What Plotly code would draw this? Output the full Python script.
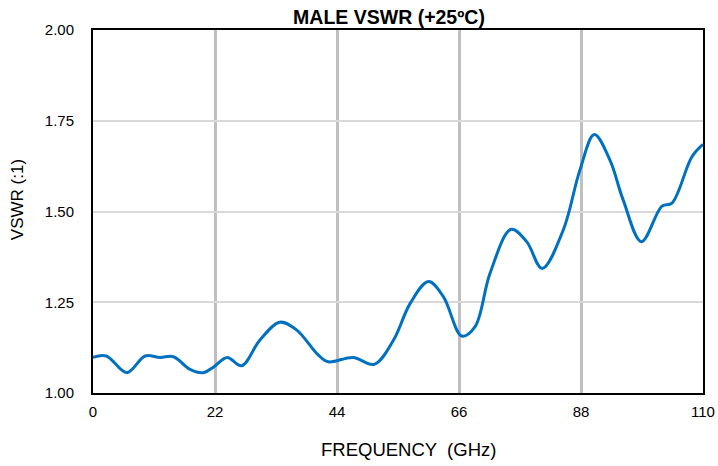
import plotly.graph_objects as go

# frequency (GHz) and VSWR
freq = [0, 2.4, 6.1, 9.4, 12.1, 14.5, 17.5, 19.9, 21.7, 24.2, 26.8, 30.1, 33.7,
        36.7, 40.6, 42.4, 46.9, 50.7, 54.2, 57.2, 60.5, 63.2, 66.5, 68.9, 71.6,
        75.4, 78.2, 81.0, 84.8, 87.8, 90.4, 93.2, 95.6, 98.9, 102.6, 104.4,
        108.0, 110]
vswr = [1.098, 1.102, 1.056, 1.102, 1.098, 1.100, 1.065, 1.056, 1.071, 1.098,
        1.075, 1.146, 1.195, 1.174, 1.105, 1.086, 1.098, 1.079, 1.146, 1.247,
        1.307, 1.265, 1.157, 1.183, 1.330, 1.451, 1.417, 1.343, 1.449, 1.614,
        1.712, 1.642, 1.532, 1.417, 1.515, 1.523, 1.651, 1.685]

x_ticks = [0, 22, 44, 66, 88, 110]
y_ticks = [1.00, 1.25, 1.50, 1.75, 2.00]

W, H = 718, 466

fig = go.Figure()
fig.add_trace(
    go.Scatter(
        x=freq,
        y=vswr,
        mode="lines",
        line=dict(color="#0070c0", width=3, shape="spline", smoothing=1.0),
        showlegend=False,
    )
)

# axis titles placed as annotations so they sit where the reference has them
fig.add_annotation(
    text="FREQUENCY  (GHz)",
    xref="paper", yref="paper",
    x=0.518, y=-0.157,
    xanchor="center", yanchor="middle",
    showarrow=False,
    font=dict(size=18.5),
)
fig.add_annotation(
    text="VSWR (:1)",
    xref="paper", yref="paper",
    x=-0.1246, y=0.534,
    xanchor="center", yanchor="middle",
    textangle=-90,
    showarrow=False,
    font=dict(size=17),
)

fig.update_layout(
    width=W,
    height=H,
    margin={"l": 93, "r": 15, "t": 30, "b": 73},
    paper_bgcolor="white",
    plot_bgcolor="white",
    font=dict(family="Liberation Sans, Arial, sans-serif", size=15, color="#000000"),
    title=dict(
        text="<b>MALE VSWR (+25ºC)</b>",
        x=389 / W,
        xanchor="center",
        y=1 - 17 / H,
        yanchor="middle",
        font=dict(size=19.5),
        automargin=False,
    ),
    xaxis=dict(
        range=[0, 110],
        tickvals=x_ticks,
        ticktext=[str(t) for t in x_ticks],
        showgrid=True,
        gridcolor="#bfbfbf",
        gridwidth=3,
        zeroline=False,
        showline=True,
        linecolor="black",
        linewidth=2,
        mirror=True,
        ticks="",
        ticklabelstandoff=4,
        ticklabeloverflow="allow",
        automargin=False,
    ),
    yaxis=dict(
        range=[1.0, 2.0],
        tickvals=y_ticks,
        ticktext=["{:.2f}".format(t) for t in y_ticks],
        showgrid=True,
        gridcolor="#d9d9d9",
        gridwidth=2,
        zeroline=False,
        showline=True,
        linecolor="black",
        linewidth=2,
        mirror=True,
        ticks="",
        ticklabelstandoff=14,
        ticklabeloverflow="allow",
        automargin=False,
    ),
)

# drop the default 8px body margin so the figure fills the window exactly
fig.write_html(
    "out.html",
    config={"displayModeBar": False},
    post_script="document.body.style.margin='0';document.body.style.overflow='hidden';",
)
